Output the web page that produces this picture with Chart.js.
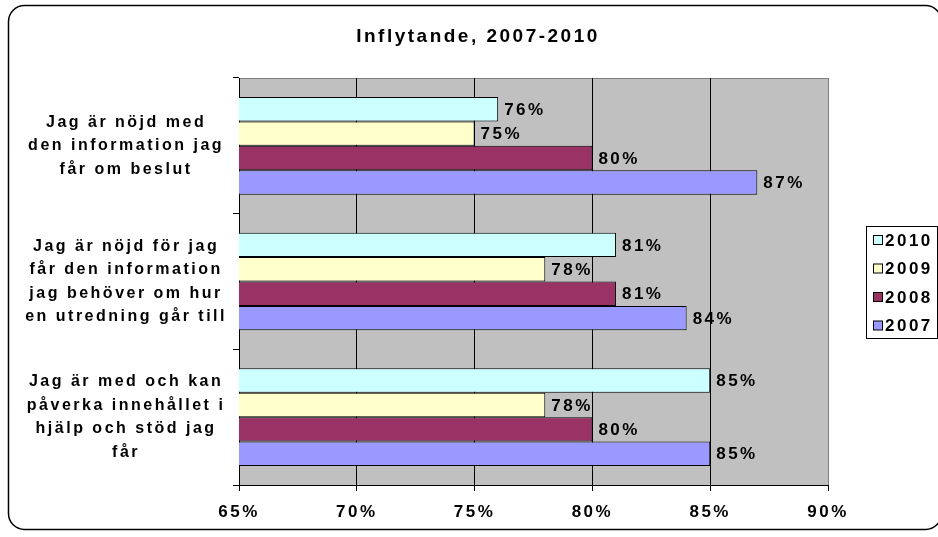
<!DOCTYPE html>
<html>
<head>
<meta charset="utf-8">
<script src="https://cdn.jsdelivr.net/npm/chart.js@4"></script>
<style>
  html, body { margin: 0; padding: 0; background: #fff; }
  #wrap { width: 938px; height: 537px; position: relative; }
</style>
</head>
<body>
<div id="wrap"><canvas id="inflytandeChart"></canvas></div>
<script>
// Inflytande, 2007-2010 - share agreeing per statement
var questions = [
  ['Jag är nöjd med', 'den information jag', 'får om beslut'],
  ['Jag är nöjd för jag', 'får den information', 'jag behöver om hur', 'en utredning går till'],
  ['Jag är med och kan', 'påverka innehållet i', 'hjälp och stöd jag', 'får']
];
var years = ['2010', '2009', '2008', '2007'];
var values2010 = [76, 81, 85];
var values2009 = [75, 78, 78];
var values2008 = [80, 81, 80];
var values2007 = [87, 84, 85];
var yearColors = ['#CCFFFF', '#FFFFCC', '#993366', '#9999FF'];
var chartTitle = 'Inflytande, 2007-2010';

var FONT = 'Arial, "Liberation Sans", sans-serif';
var SPACING = '2.5px';

// frame, plot background, title, data labels and legend box, Excel style
var excelLook = {
  id: 'excelLook',
  beforeLayout: function (chart) {
    chart.ctx.letterSpacing = SPACING;
  },
  beforeDraw: function (chart) {
    var c = chart.ctx, a = chart.chartArea;
    c.letterSpacing = SPACING;
    c.save();
    c.fillStyle = '#fff';
    c.fillRect(0, 0, chart.width, chart.height);
    c.strokeStyle = '#000';
    c.lineWidth = 1.5;
    c.beginPath();
    c.roundRect(8.5, 5.5, 933, 524, 16);
    c.stroke();
    c.fillStyle = '#C0C0C0';
    c.fillRect(a.left, a.top, a.right - a.left, a.bottom - a.top);
    c.strokeStyle = '#808080';
    c.lineWidth = 1;
    c.strokeRect(a.left + 0.5, a.top + 0.5, a.right - a.left, a.bottom - a.top);
    c.font = 'bold 19px ' + FONT;
    c.fillStyle = '#000';
    c.textAlign = 'center';
    c.textBaseline = 'middle';
    c.fillText(chartTitle, 478, 37);
    c.restore();
  },
  afterDatasetsDraw: function (chart) {
    var c = chart.ctx;
    c.save();
    c.font = 'bold 17px ' + FONT;
    c.fillStyle = '#000';
    c.textBaseline = 'middle';
    c.textAlign = 'left';
    chart.data.datasets.forEach(function (ds, i) {
      chart.getDatasetMeta(i).data.forEach(function (bar, j) {
        c.fillText(ds.data[j] + '%', bar.x + 6, bar.y + 1);
      });
    });
    // legend
    var lx = 866, ly = 226;
    c.strokeStyle = '#000';
    c.lineWidth = 1;
    c.fillStyle = '#fff';
    c.fillRect(lx + 0.5, ly + 0.5, 71, 112);
    c.strokeRect(lx + 0.5, ly + 0.5, 71, 112);
    chart.data.datasets.forEach(function (ds, i) {
      var y = 240 + i * 28.5;
      c.fillStyle = ds.backgroundColor;
      c.fillRect(873.5, y - 4.5, 9, 9);
      c.strokeRect(873.5, y - 4.5, 9, 9);
      c.fillStyle = '#000';
      c.fillText(ds.label, 885, y + 1);
    });
    c.restore();
  }
};

var series = [values2010, values2009, values2008, values2007];

new Chart(document.getElementById('inflytandeChart'), {
  type: 'bar',
  data: {
    labels: questions,
    datasets: series.map(function (vals, i) {
      return {
        label: years[i],
        data: vals,
        backgroundColor: yearColors[i],
        borderColor: '#000',
        borderWidth: 1,
        borderSkipped: false,
        categoryPercentage: 0.72,
        barPercentage: 1.0
      };
    })
  },
  plugins: [excelLook],
  options: {
    indexAxis: 'y',
    responsive: true,
    maintainAspectRatio: false,
    animation: false,
    layout: { padding: { left: 0, right: 110, top: 78, bottom: 0 } },
    plugins: {
      legend: { display: false },
      tooltip: { enabled: false },
      title: { display: false }
    },
    scales: {
      x: {
        min: 65,
        max: 90,
        ticks: {
          stepSize: 5,
          color: '#000',
          padding: 11,
          font: { family: FONT, size: 17, weight: 'bold' },
          callback: function (v) { return v + '%'; }
        },
        grid: {
          color: function (ctx) { return ctx.tick && ctx.tick.value === 90 ? '#808080' : '#000'; },
          tickLength: 6,
          tickColor: '#000'
        },
        border: { color: '#000', width: 1 },
        afterFit: function (scale) { scale.height = 52; }
      },
      y: {
        ticks: {
          color: '#000',
          padding: 6,
          crossAlign: 'center',
          font: { family: FONT, size: 16, weight: 'bold', lineHeight: 1.47 }
        },
        grid: {
          drawOnChartArea: false,
          tickLength: 6,
          color: '#000'
        },
        border: { color: '#000', width: 1 },
        afterFit: function (scale) { scale.width = 239; }
      }
    }
  }
});
</script>
</body>
</html>
